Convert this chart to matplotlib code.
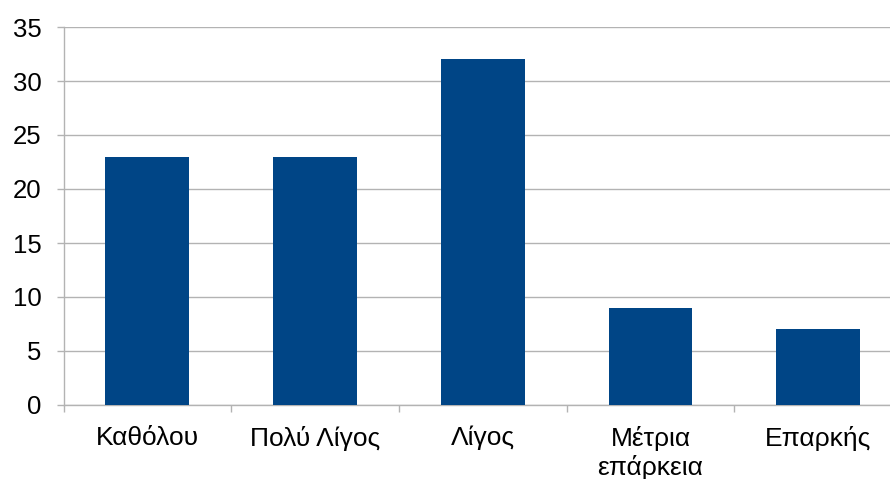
import matplotlib
matplotlib.use("Agg")
import matplotlib.pyplot as plt
import numpy as np

plt.rcParams['font.family'] = ['Liberation Sans', 'DejaVu Sans']

categories = ['Καθόλου', 'Πολύ Λίγος', 'Λίγος', 'Μέτρια\nεπάρκεια', 'Επαρκής']
values = [23, 23, 32, 9, 7]

bar_color = '#004586'
grid_color = '#b3b3b3'

fig = plt.figure(figsize=(8.9, 4.79), dpi=100)
# plot area runs a little past the right edge of the image, as in the original
ax = fig.add_axes([63.5 / 890, 74 / 479, (902 - 63.5) / 890, 378 / 479])

ind = np.arange(len(categories))
ax.bar(ind, values, width=0.5, color=bar_color, zorder=3)

ax.set_xlim(-0.5, len(categories) - 0.5)
ax.set_ylim(0, 35)
ax.set_yticks(np.arange(0, 36, 5))
ax.yaxis.grid(True, color=grid_color, linewidth=1.0, zorder=0)

ax.set_xticks(ind)
ax.set_xticklabels(categories, linespacing=1.2)
ax.set_xticks(np.arange(-0.5, len(categories), 1), minor=True)
ax.tick_params(axis='x', which='major', length=0, pad=15, labelsize=19)
ax.tick_params(axis='x', which='minor', length=5, width=1, color=grid_color)
ax.tick_params(axis='y', length=5, width=1, color=grid_color, pad=11, labelsize=18.5)

for side in ['top', 'right']:
    ax.spines[side].set_visible(False)
for side in ['left', 'bottom']:
    ax.spines[side].set_color(grid_color)
    ax.spines[side].set_linewidth(1.0)

fig.savefig('out.png', dpi=100)
